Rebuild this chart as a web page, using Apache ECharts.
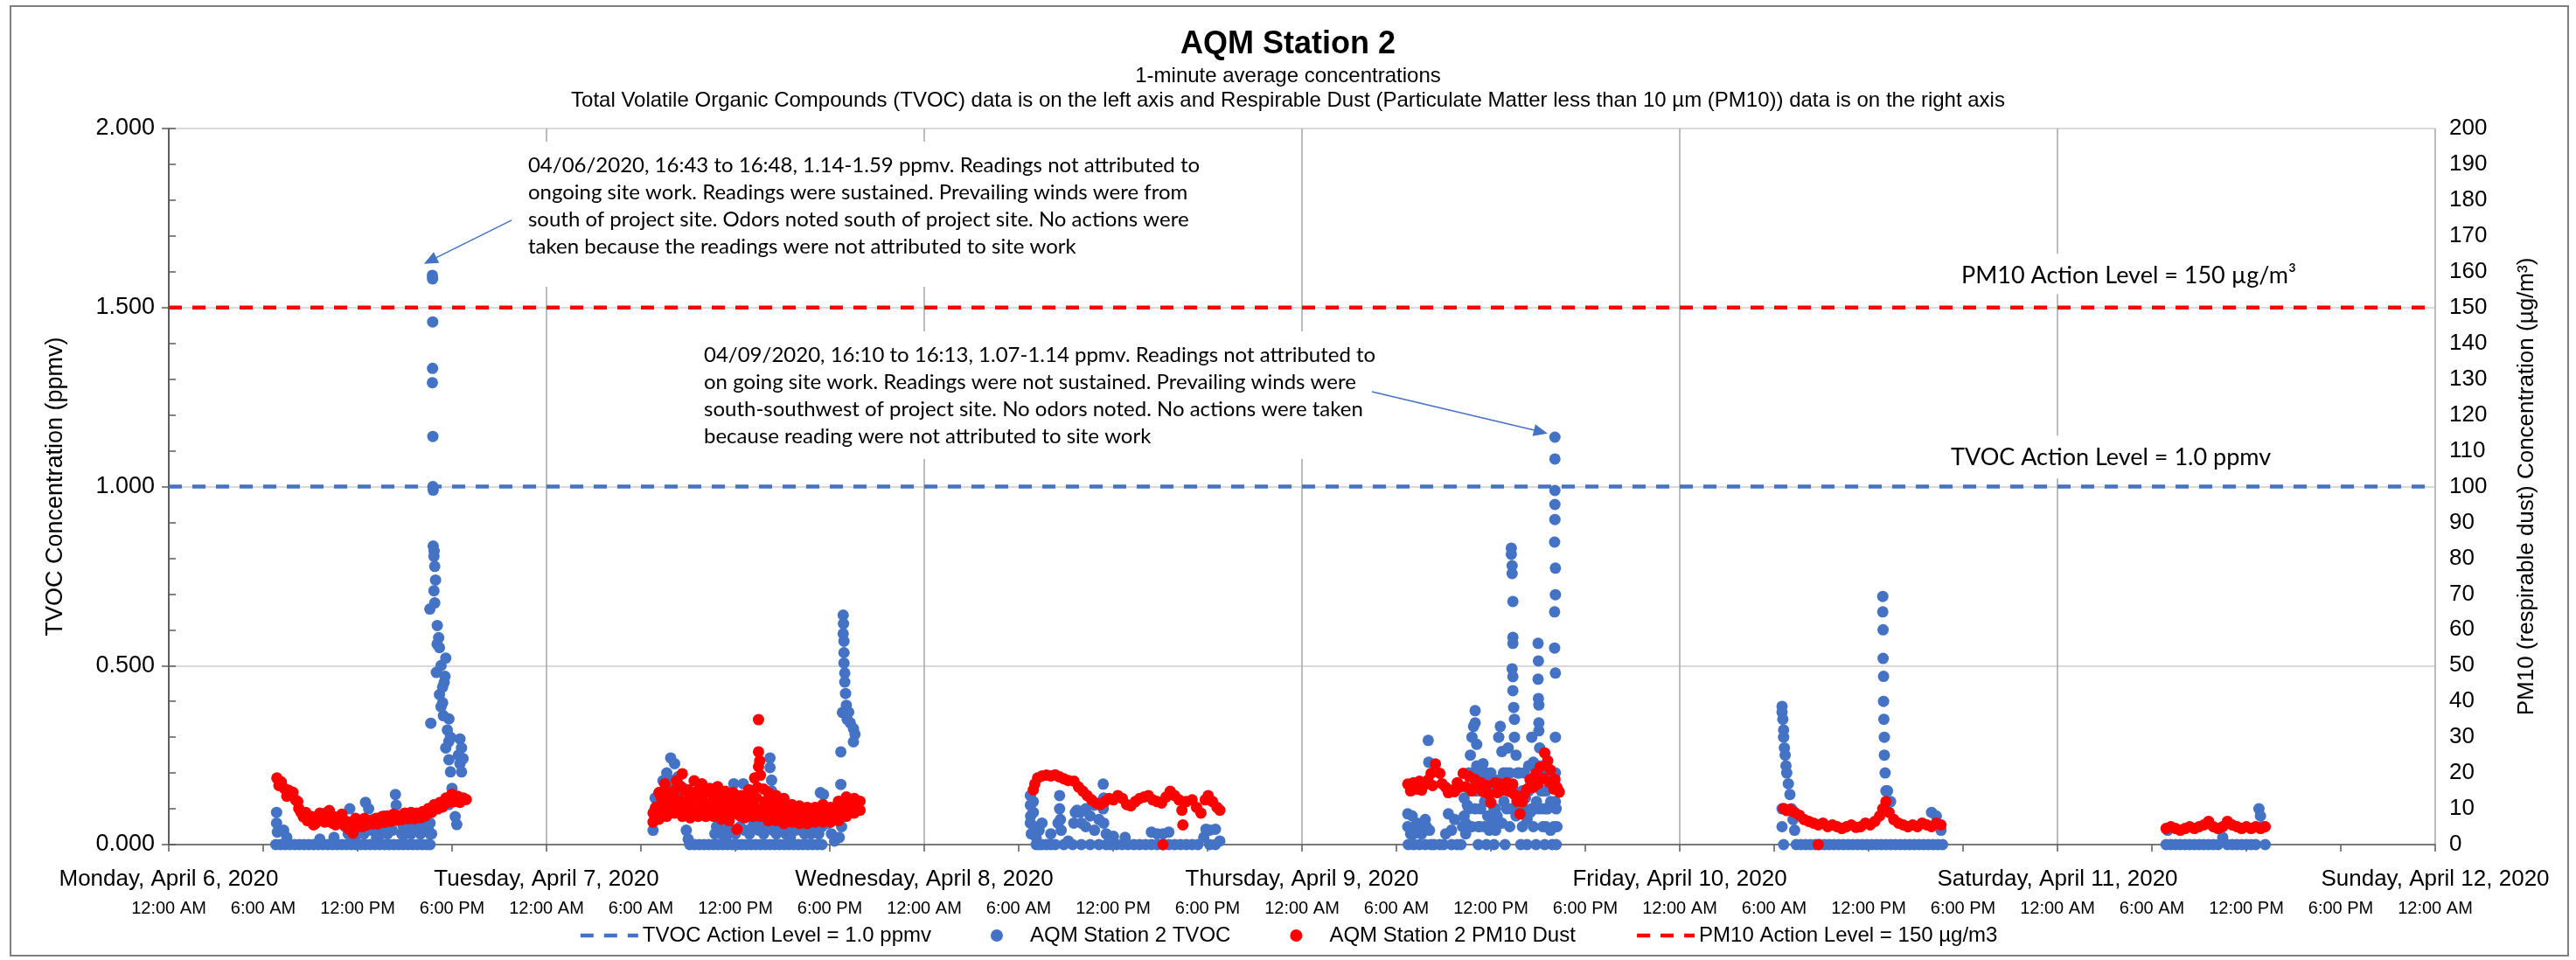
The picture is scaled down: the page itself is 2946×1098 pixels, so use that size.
<!DOCTYPE html>
<html><head><meta charset="utf-8">
<script src="https://cdn.jsdelivr.net/npm/echarts@6/dist/echarts.min.js"></script>
<style>html,body{margin:0;padding:0;background:#fff}#c{width:2946px;height:1098px}</style>
</head><body><div id="c"></div>
<script>
// ---------- DATA (x = hours since Monday April 6 2020 00:00) ----------
const dayLabels = ['Monday, April 6, 2020','Tuesday, April 7, 2020','Wednesday, April 8, 2020','Thursday, April 9, 2020','Friday, April 10, 2020','Saturday, April 11, 2020','Sunday, April 12, 2020'];
const timeLabels = ['12:00 AM','6:00 AM','12:00 PM','6:00 PM'];
const tvocActionLevel = 1.0;   // ppmv
const pm10ActionLevel = 150;   // ug/m3

const tvocMon = [
 [6.8,0],[7.1,0],[7.4,0],[7.7,0],[8.0,0],[8.3,0],[8.6,0],[8.9,0],[9.2,0],[9.5,0],[9.8,0],[10.1,0],[10.4,0],[10.7,0],[11.0,0],[11.3,0],[11.6,0],[11.9,0],[12.2,0],[12.5,0],[12.8,0],[13.1,0],[13.4,0],[13.7,0],[14.0,0],[14.3,0],[14.6,0],[14.9,0],[15.2,0],[15.5,0],[15.8,0],[16.1,0],[16.4,0],[16.6,0],
 [6.85,0.09],[6.85,0.06],[6.9,0.035],[7.3,0.04],[7.5,0.02],[9.6,0.015],[10.5,0.02],[11.2,0.05],[11.5,0.1],[11.9,0.04],[12.0,0.03],[12.3,0.06],[12.5,0.118],[12.7,0.1],[13.0,0.07],[13.3,0.05],[13.5,0.03],[13.7,0.08],[14.0,0.06],[14.4,0.14],[14.45,0.11],[14.6,0.07],[14.9,0.05],[15.0,0.03],[15.2,0.06],[15.5,0.045],[15.8,0.05],[16.1,0.04],[16.4,0.06],[16.6,0.03],
 [11.4,0.03],[11.8,0.02],[12.1,0.05],[12.4,0.03],[12.9,0.04],[13.2,0.02],[13.6,0.05],[13.9,0.03],[14.2,0.04],[14.8,0.03],[15.1,0.05],[15.4,0.03],[15.7,0.06],[16.0,0.03],[16.3,0.05],[16.5,0.04],
 [16.75,1.59],[16.76,1.58],[16.77,1.46],[16.76,1.33],[16.75,1.29],[16.78,1.14],[16.78,1.0],[16.8,0.99],[16.8,0.834],[16.86,0.82],[16.85,0.805],[16.9,0.777],[16.95,0.739],[16.85,0.709],[16.9,0.675],[16.59,0.658],[17.06,0.612],[17.15,0.578],[17.2,0.55],[17.6,0.521],[17.0,0.481],[17.5,0.453],[17.2,0.419],[17.4,0.396],[17.3,0.385],[17.8,0.351],[16.65,0.339],[17.8,0.288],[18.5,0.295],[18.6,0.27],[17.8,0.237],[18.5,0.226],[17.9,0.203],[18.6,0.203],[18.0,0.157],[17.8,0.112],[18.2,0.078],[18.3,0.056],[17.9,0.3],[17.7,0.32],[17.4,0.44],[17.55,0.47],[17.3,0.5],[17.05,0.56],[17.45,0.36],[17.6,0.27],[18.4,0.25],[18.7,0.24],[16.6,0.06],[16.7,0.03]
];
const tvocTue = [
 [30.77,0.04],[30.9,0.1],[30.9,0.13],[31.15,0.145],[31.15,0.1],[31.4,0.178],[31.4,0.12],[31.64,0.2],[31.64,0.15],[31.89,0.242],[31.9,0.18],[32.1,0.17],[32.14,0.226],[32.38,0.19],[32.38,0.145],[32.4,0.1],[32.63,0.16],[32.75,0.096],[32.88,0.04],[33.0,0.015],
 [33.1,0],[33.4,0],[33.7,0],[34.0,0],[34.3,0],[34.6,0],[34.9,0],[35.2,0],[35.5,0],[35.8,0],[36.1,0],[36.4,0],[36.7,0],[37.0,0],[37.3,0],[37.6,0],[37.9,0],[38.2,0],[38.5,0],[38.8,0],[39.1,0],[39.4,0],[39.7,0],[40.0,0],[40.3,0],[40.6,0],[40.9,0],[41.2,0],[41.5,0],
 [34.7,0.03],[35.0,0.07],[35.3,0.05],[35.6,0.07],[35.9,0.17],[36.0,0.12],[36.2,0.09],[36.5,0.17],[36.6,0.12],[36.8,0.08],[37.1,0.05],[37.4,0.1],[37.6,0.06],[37.9,0.08],[38.2,0.242],[38.2,0.215],[38.3,0.18],[38.3,0.15],[38.4,0.1],[38.7,0.06],[39.0,0.04],[39.3,0.07],[39.6,0.05],[39.9,0.06],[40.2,0.04],[40.5,0.05],[40.8,0.03],[41.1,0.06],[41.4,0.145],[41.6,0.14],[41.8,0.1],[41.9,0.06],[42.1,0.03],[42.3,0.01],[42.6,0.02],[42.7,0.12],[42.7,0.168],[42.7,0.259],[42.75,0.05],
 [34.8,0.05],[35.1,0.03],[35.4,0.02],[35.7,0.04],[36.0,0.03],[36.3,0.05],[36.6,0.04],[36.9,0.03],[37.2,0.06],[37.5,0.04],[37.8,0.03],[38.1,0.05],[38.4,0.04],[38.6,0.03],[38.9,0.05],[39.2,0.03],[39.5,0.02],[39.8,0.04],[40.1,0.06],[40.4,0.03],[40.7,0.05],[41.0,0.04],[41.3,0.03],[41.5,0.05],
 [42.85,0.641],[42.87,0.617],[42.85,0.589],[42.9,0.568],[42.9,0.536],[42.9,0.507],[42.95,0.479],[42.95,0.454],[43.0,0.422],[43.05,0.389],[42.8,0.369],[43.1,0.35],[43.2,0.37],[43.3,0.34],[43.5,0.324],[43.6,0.308],[43.5,0.287]
];
const tvocWed = [
 [54.74,0.137],[54.74,0.11],[54.76,0.08],[54.74,0.06],[54.8,0.03],[54.93,0.12],[54.93,0.09],[55.0,0.05],[55.11,0.02],[55.11,0],[55.3,0],[55.3,0.04],[55.48,0.06],[55.48,0],[55.76,0],[56.04,0],[56.04,0.03],[56.32,0],[56.5,0.06],[56.6,0.137],[56.6,0.1],[56.65,0.07],[56.7,0.04],[56.87,0],[57.15,0.01],[57.43,0],[57.5,0.06],[57.6,0.09],[57.71,0.096],[57.9,0.09],[57.98,0.06],[57.98,0],[58.26,0.1],[58.26,0.05],[58.54,0.08],[58.54,0],[58.82,0.11],[58.82,0.04],[59.1,0.07],[59.1,0],[59.37,0.169],[59.4,0.13],[59.37,0.1],[59.4,0.06],[59.56,0.03],[59.56,0],[59.84,0],[60.02,0.023],[60.21,0],[60.58,0],[60.76,0.02],[60.95,0],[61.32,0],[61.69,0],[62.06,0],[62.43,0.035],[62.43,0],[62.8,0.03],[62.8,0],[63.17,0.03],[63.17,0],[63.54,0.035],[63.54,0],[63.91,0],[64.28,0],[64.65,0],[65.02,0],[65.39,0],[65.76,0.02],[65.9,0.043],[66.13,0.04],[66.13,0],[66.5,0.043],[66.5,0],[66.78,0.01]
];
const tvocThu = [
 [78.72,0.086],[78.72,0.05],[78.75,0],[78.9,0.03],[79.0,0.08],[79.09,0.03],[79.09,0],[79.2,0.05],[79.3,0.06],[79.46,0],[79.5,0.04],[79.6,0.03],[79.83,0.07],[79.83,0],[79.9,0.05],[80.02,0.291],[80.05,0.23],[80.1,0.04],[80.2,0],[80.39,0],[80.76,0],[81.0,0],[81.13,0.03],[81.3,0.086],[81.5,0.04],[81.5,0],[81.7,0.07],[81.87,0],[82.1,0],[82.3,0.13],[82.3,0.08],[82.4,0.03],[82.5,0.11],[82.6,0.2],[82.7,0.25],[82.8,0.3],[82.9,0.33],[83.0,0.374],[83.0,0.34],[83.1,0.28],[83.1,0.15],[83.2,0.05],[83.2,0],[83.3,0.2],[83.35,0.1],[83.5,0.226],[83.5,0.16],[83.6,0.05],[83.72,0],[83.8,0.18],[83.9,0.12],[84.0,0.2],[84.09,0.06],[84.2,0],[84.3,0.1],[84.4,0.18],[84.5,0.3],[84.6,0.33],[84.7,0.26],[84.83,0.12],[84.9,0],[85.0,0.2],[85.1,0.27],[85.2,0.05],
 [82.2,0.05],[82.4,0.06],[82.6,0.1],[82.7,0.15],[82.8,0.05],[82.9,0.2],[83.0,0.1],[83.1,0.22],[83.3,0.05],[83.4,0.15],[83.6,0.12],[83.7,0.2],[83.8,0.08],[83.9,0.04],[84.1,0.15],[84.2,0.1],[84.3,0.04],[84.4,0.08],[84.6,0.15],[84.7,0.06],[84.8,0.2],[85.0,0.1],[85.1,0.15],[85.2,0.2],[85.3,0.1],[85.5,0.15],[85.6,0.08],[85.8,0.2],[86.0,0.15],[86.1,0.1],[86.3,0.07],[86.4,0.22],[86.5,0.18],[86.6,0.1],[86.7,0.05],[86.9,0.12],[87.1,0.1],[87.2,0.2],[87.3,0.15],[87.4,0.1],[87.5,0.05],[87.6,0.2],[87.8,0.12],[87.9,0.18],[88.0,0.05],[88.1,0.12],[88.2,0.05],
 [85.3,0.828],[85.3,0.811],[85.35,0.779],[85.35,0.757],[85.4,0.679],[85.4,0.579],[85.4,0.562],[85.35,0.491],[85.4,0.469],[85.4,0.43],[85.45,0.383],[85.5,0.35],[85.5,0.3],[85.6,0.25],[85.7,0.2],[85.76,0.1],[85.9,0],[86.0,0.05],[86.13,0.2],[86.2,0.13],[86.3,0],[86.4,0.15],[86.5,0.09],[86.6,0.3],[86.7,0.23],[86.8,0.1],[86.87,0],[86.9,0.2],
 [87.0,0.562],[87.02,0.513],[87.0,0.462],[87.02,0.408],[87.05,0.39],[87.05,0.34],[87.05,0.318],[87.1,0.27],[87.1,0.22],[87.2,0.15],[87.3,0.05],[87.42,0],[87.5,0.15],[87.6,0.1],[87.7,0.2],[87.79,0.04],[87.9,0],
 [88.07,1.138],[88.07,1.077],[88.07,0.989],[88.07,0.95],[88.07,0.908],[88.05,0.845],[88.1,0.772],[88.1,0.698],[88.05,0.65],[88.05,0.549],[88.1,0.479],[88.1,0.3],[88.1,0.2],[88.15,0.1],[88.15,0]
];
const tvocFri = [
 [102.5,0.386],[102.5,0.37],[102.55,0.35],[102.6,0.32],[102.6,0.3],[102.65,0.27],[102.7,0.25],[102.75,0.22],[102.8,0.2],[102.9,0.17],[103.0,0.14],[103.1,0.1],[103.2,0.07],[103.3,0.04],[102.5,0.1],[102.5,0.05],[102.6,0],
 [103.4,0],[103.7,0],[104.0,0],[104.3,0],[104.6,0],[104.9,0],[105.2,0],[105.5,0],[105.8,0],[106.1,0],[106.4,0],[106.7,0],[107.0,0],[107.3,0],[107.6,0],[107.9,0],[108.2,0],[108.5,0],[108.8,0],[109.1,0],[109.4,0],[109.7,0],[110.0,0],[110.3,0],[110.6,0],[110.9,0],[111.2,0],[111.5,0],[111.8,0],[112.1,0],[112.4,0],[112.7,0],
 [108.9,0.693],[108.9,0.65],[108.92,0.6],[108.92,0.52],[108.95,0.47],[108.95,0.4],[108.97,0.35],[109.0,0.3],[109.0,0.25],[109.05,0.2],[109.1,0.15],[109.1,0.1],[109.2,0.15],[109.4,0.12],[110.5,0.05],[112.0,0.09],[112.3,0.08],[112.6,0.04]
];
const tvocSat = [
 [126.9,0],[127.0,0.04],[127.2,0],[127.5,0],[127.8,0],[128.1,0],[128.4,0],[128.7,0],[129.0,0],[129.3,0],[129.6,0],[129.9,0],[130.2,0],[130.5,0.02],[130.8,0],[131.1,0],[131.4,0],[131.7,0],[132.0,0],[132.3,0],[132.6,0],[132.8,0.1],[132.9,0.08],[133.0,0.05],[133.2,0]
];

const pm10Mon = [
 [6.87,18.6],[7.15,17.5],[7.33,15.7],[7.61,15.2],[7.89,14.6],[8.07,12.4],[8.26,10.1],[8.4,9.0],[8.54,7.8],[8.81,6.7],[9.09,7.8],[9.3,5.8],[9.46,6.7],[9.74,7.8],[9.9,6.3],[10.02,8.9],[10.2,9.5],[10.4,6.0],[10.48,7.8],[10.76,7.3],[11.0,8.5],[11.13,5.5],[11.4,4.4],[11.7,3.2],[11.87,7.3],[12.0,5.0],[12.15,6.2],[12.43,7.3],[12.8,6.7],[13.0,5.8],[13.17,7.3],[13.54,7.8],[13.9,8.0],[14.28,8.5],[14.65,8.0],[15.0,8.8],[15.39,9.0],[15.76,8.8],[16.13,9.2],[16.5,10.1],[16.87,11.2],[17.24,11.8],[17.61,13.0],[17.98,14.1],[18.35,13.5],[18.72,13.0],[18.9,12.6],
 [7.0,16.5],[7.5,13.5],[8.2,12.0],[8.7,9.0],[9.2,5.5],[9.6,8.8],[10.1,6.5],[10.6,5.5],[11.3,6.5],[11.55,5.0],[12.3,5.0],[12.6,5.5],[13.3,5.8],[13.7,6.2],[14.1,6.5],[14.5,6.8],[14.8,7.0],[15.2,7.2],[15.6,7.2],[16.0,7.5],[16.3,8.0],[16.7,9.0],[17.1,10.0],[17.4,10.5],[17.8,11.8],[18.1,12.0],[18.5,11.8]
];
const pm10Tue = [
 [30.77,8.8],[31.15,14.5],[31.52,17.0],[31.89,14.5],[32.26,17.8],[32.63,19.8],[33.0,15.3],[33.38,17.8],[33.87,17.0],[34.37,15.7],[34.87,16.2],[35.36,14.9],[35.86,14.5],[36.35,13.7],[36.85,15.3],[37.22,18.6],[37.59,19.4],[38.09,14.5],[38.59,13.7],[39.08,12.9],[39.58,11.2],[40.07,10.8],[40.57,10.4],[41.07,10.4],[41.56,11.2],[42.06,10.4],[42.55,12.1],[43.05,13.3],[43.55,12.9],[43.92,12.1],
 [30.77,6.3],[31.15,7.1],[31.64,7.9],[32.14,8.8],[32.63,7.9],[33.13,7.5],[33.63,7.9],[34.12,7.9],[34.62,7.9],[35.11,7.1],[35.61,6.7],[36.1,4.3],[36.6,7.5],[37.1,7.9],[37.59,7.9],[38.09,6.7],[38.59,6.7],[39.08,5.9],[39.58,6.3],[40.07,5.9],[40.57,5.9],[41.07,6.3],[41.56,6.3],[42.06,6.3],[42.55,6.7],[43.05,7.9],[43.55,8.8],[43.92,9.6],
 [30.95,10.5],[31.4,11.5],[31.77,11.0],[32.0,13.0],[32.4,12.5],[32.85,12.0],[33.25,12.0],[33.62,12.5],[34.0,12.0],[34.5,11.8],[34.99,11.5],[35.5,11.0],[35.98,9.6],[36.48,10.5],[36.97,11.5],[37.35,13.0],[37.85,12.0],[38.35,10.5],[38.83,9.8],[39.33,9.0],[39.83,8.5],[40.32,8.2],[40.82,8.2],[41.32,8.5],[41.81,8.5],[42.3,9.0],[42.8,10.5],[43.3,10.8],[43.75,10.8],
 [31.3,13.0],[31.7,14.5],[32.1,15.0],[32.45,16.5],[32.8,15.0],[33.2,14.0],[33.6,15.0],[34.1,14.5],[34.6,14.0],[35.1,13.5],[35.6,12.8],[36.1,12.0],[36.6,12.5],[37.0,14.0],[37.4,16.0],[37.8,15.5],[38.3,12.5],[38.8,11.5],[39.3,10.8],[39.8,10.0],[40.3,9.5],[40.8,9.5],[41.3,9.8],[41.8,9.6],[42.3,10.0],[42.8,11.5],[43.3,12.0],[43.8,11.8],
 [31.2,9.0],[31.6,9.5],[32.0,10.0],[32.4,10.0],[32.8,9.5],[33.3,9.5],[33.8,10.0],[34.3,9.8],[34.8,9.5],[35.3,9.0],[35.8,8.5],[36.3,8.0],[36.8,9.0],[37.3,10.0],[37.8,9.5],[38.3,8.5],[38.8,8.0],[39.3,7.5],[39.8,7.2],[40.3,7.0],[40.8,7.0],[41.3,7.2],[41.8,7.2],[42.3,7.5],[42.8,8.8],[43.3,9.5],[43.8,10.0],
 [37.47,34.9],[37.47,25.9],[37.55,23.4],[37.47,21.8]
];
const pm10Wed = [
 [54.93,15.3],[55.02,16.9],[55.2,18.6],[55.48,19.2],[55.76,19.4],[56.04,19.2],[56.32,19.5],[56.6,18.9],[56.87,18.4],[57.15,17.9],[57.52,17.7],[57.8,16.1],[58.08,14.9],[58.35,13.7],[58.63,12.5],[58.91,11.6],[59.19,11.2],[59.47,12.0],[59.74,12.9],[60.02,12.5],[60.3,13.7],[60.58,12.9],[60.86,11.2],[61.13,10.8],[61.41,12.0],[61.69,12.9],[61.97,13.3],[62.24,13.7],[62.52,12.5],[62.8,12.0],[63.08,11.6],[63.36,13.3],[63.63,14.9],[63.91,13.7],[64.19,12.5],[64.37,9.6],[64.43,5.5],[64.65,12.0],[65.02,12.5],[65.3,10.4],[65.58,8.8],[65.85,12.5],[66.04,13.7],[66.32,12.0],[66.6,10.4],[66.78,9.6],[63.17,0]
];
const pm10Thu = [
 [78.72,16.9],[79.09,17.3],[79.3,15.5],[79.46,17.7],[79.83,16.9],[80.0,18.0],[80.2,19.9],[80.48,22.5],[80.76,19.9],[81.13,16.0],[81.3,14.5],[81.5,15.2],[81.87,17.3],[82.0,16.0],[82.24,19.9],[82.61,19.1],[82.98,18.2],[83.0,16.0],[83.35,17.3],[83.72,16.5],[84.0,11.7],[84.27,17.3],[84.5,15.0],[84.65,16.9],[85.02,17.3],[85.39,16.9],[85.66,12.1],[85.85,8.6],[86.0,12.0],[86.13,14.0],[86.3,15.5],[86.5,18.2],[86.87,19.9],[87.0,17.0],[87.14,21.7],[87.42,25.6],[87.61,23.4],[87.79,20.8],[88.07,18.2],[88.2,16.0],[88.35,14.7],
 [78.9,15.0],[79.6,15.2],[80.3,16.5],[80.9,17.0],[81.7,14.8],[82.4,16.2],[82.8,15.0],[83.5,14.8],[83.9,14.0],[84.4,14.5],[84.9,15.2],[85.2,14.8],[85.5,14.0],[86.7,16.0],[87.3,18.5],[87.7,17.5],[88.0,15.5]
];
const pm10Fri = [
 [102.6,10.1],[102.8,9.5],[103.0,9.8],[103.3,9.0],[103.6,8.2],[103.9,7.0],[104.2,6.5],[104.5,6.0],[104.8,5.5],[105.1,6.0],[105.4,5.0],[105.7,5.5],[106.0,5.0],[106.3,4.5],[106.6,5.0],[106.9,5.5],[107.2,4.8],[107.5,5.0],[107.8,6.0],[108.1,5.5],[108.4,6.5],[108.7,8.0],[108.9,10.0],[109.1,12.0],[109.3,9.0],[109.6,7.0],[109.9,6.0],[110.2,5.5],[110.5,5.0],[110.8,5.5],[111.1,5.0],[111.4,6.0],[111.7,5.5],[112.0,5.0],[112.3,6.0],[112.6,5.5],[104.8,0]
];
const pm10Sat = [
 [126.9,4.5],[127.2,5.0],[127.5,4.5],[127.8,4.0],[128.1,4.5],[128.4,5.0],[128.7,4.5],[129.0,5.0],[129.3,5.5],[129.6,6.5],[129.9,5.0],[130.2,4.5],[130.5,5.0],[130.8,6.5],[131.1,5.5],[131.4,5.0],[131.7,4.5],[132.0,5.0],[132.3,4.5],[132.6,5.0],[132.9,4.5],[133.2,5.0]
];

const tvoc = [].concat(tvocMon, tvocTue, tvocWed, tvocThu, tvocFri, tvocSat);
const pm10 = [].concat(pm10Mon, pm10Tue, pm10Wed, pm10Thu, pm10Fri, pm10Sat);

const titleText = 'AQM Station 2';
const subtitle1 = '1-minute average concentrations';
const subtitle2 = 'Total Volatile Organic Compounds (TVOC) data is on the left axis and Respirable Dust (Particulate Matter less than 10 µm (PM10)) data is on the right axis';
const legendNames = ['TVOC Action Level = 1.0 ppmv','AQM Station 2 TVOC','AQM Station 2 PM10 Dust','PM10 Action Level = 150 µg/m3'];

const notes = [
 {anchor:[22.83,1.934], pad:[12,10,30,10], text:'04/06/2020, 16:43 to 16:48, 1.14-1.59 ppmv. Readings not attributed to\nongoing site work. Readings were sustained. Prevailing winds were from\nsouth of project site. Odors noted south of project site. No actions were\ntaken because the readings were not attributed to site work'},
 {anchor:[34.0,1.404], pad:[12,10,10,10], text:'04/09/2020, 16:10 to 16:13, 1.07-1.14 ppmv. Readings not attributed to\non going site work. Readings were not sustained. Prevailing winds were\nsouth-southwest of project site. No odors noted. No actions were taken\nbecause reading were not attributed to site work'},
 {anchor:[113.89,1.626], pad:[10,10,5,10], text:'PM10 Action Level = 150 µg/m³', big:true},
 {anchor:[113.22,1.118], pad:[10,10,8,10], text:'TVOC Action Level = 1.0 ppmv', big:true}
];
const arrows = [
 {from:[21.78,1.744], to:[16.61,1.631]},
 {from:[76.44,1.265], to:[87.17,1.153]}
];

// ---------- CHART ----------
const FONT = 'Liberation Sans, Arial, sans-serif';
const BLUE = '#4472C4', RED = '#FF0000';
const chart = echarts.init(document.getElementById('c'), null, {renderer:'canvas', width:2946, height:1098});

const hiddenSymbol = {color:'rgba(0,0,0,0)', borderColor:'rgba(0,0,0,0)', borderWidth:0, opacity:0};
const option = {
  animation:false,
  backgroundColor:'#fff',
  title:[
    {text:titleText, left:'center', top:28, textStyle:{fontFamily:FONT, fontSize:36, fontWeight:'bold', color:'#000'}},
    {text:subtitle1, left:'center', top:70, textStyle:{fontFamily:FONT, fontSize:24, fontWeight:'normal', color:'#000'}},
    {text:subtitle2, left:'center', top:98, textStyle:{fontFamily:FONT, fontSize:24, fontWeight:'normal', color:'#000'}}
  ],
  legend:{
    left:'center', top:1053, itemWidth:66, itemHeight:14, itemGap:68,
    textStyle:{fontFamily:FONT, fontSize:24, color:'#000'},
    data:[
      {name:legendNames[0], itemStyle:hiddenSymbol, lineStyle:{width:4.5}},
      {name:legendNames[1]},
      {name:legendNames[2]},
      {name:legendNames[3], itemStyle:hiddenSymbol, lineStyle:{width:4.5}}
    ]
  },
  grid:{left:193, right:161, top:147, bottom:132, containLabel:false},
  xAxis:[
    {type:'value', min:0, max:144, interval:6, position:'bottom',
     axisLine:{show:true, onZero:false, lineStyle:{color:'#595959', width:1.5}},
     axisTick:{show:true, length:8, lineStyle:{color:'#595959', width:1.5}},
     splitLine:{show:false},
     axisLabel:{show:true, margin:63, showMinLabel:true, showMaxLabel:true, hideOverlap:false,
       fontFamily:FONT, fontSize:20, color:'#000',
       formatter:v=>timeLabels[Math.round(v/6)%4]}},
    {type:'value', min:0, max:144, interval:24, position:'bottom',
     axisLine:{show:false, onZero:false}, axisTick:{show:false},
     axisLabel:{show:true, margin:27, showMinLabel:true, showMaxLabel:true, fontFamily:FONT, fontSize:26, color:'#000',
       formatter:v=>dayLabels[Math.round(v/24)]},
     splitLine:{show:true, lineStyle:{color:'#A6A6A6', width:1.5}}}
  ],
  yAxis:[
    {type:'value', min:0, max:2, interval:0.5, position:'left',
     name:'TVOC Concentration (ppmv)', nameLocation:'middle', nameGap:116, nameRotate:90,
     nameTextStyle:{fontFamily:FONT, fontSize:27, color:'#000'},
     axisLine:{show:true, lineStyle:{color:'#595959', width:1.5}},
     axisTick:{show:true, length:8, lineStyle:{color:'#595959', width:1.5}},
     axisLabel:{margin:16, fontFamily:FONT, fontSize:27, color:'#000', formatter:v=>v.toFixed(3)},
     splitLine:{show:true, lineStyle:{color:'#D9D9D9', width:2}}},
    {type:'value', min:0, max:200, interval:10, position:'right',
     name:'PM10 (respirable dust) Concentration (µg/m³)', nameLocation:'middle', nameGap:92, nameRotate:90,
     nameTextStyle:{fontFamily:FONT, fontSize:26, color:'#000'},
     axisLine:{show:true, lineStyle:{color:'#595959', width:1.5}},
     axisTick:{show:true, length:8, lineStyle:{color:'#595959', width:1.5}},
     axisLabel:{margin:16, fontFamily:FONT, fontSize:26, color:'#000'},
     splitLine:{show:false}}
  ],
  series:[
    {name:legendNames[0], type:'line', xAxisIndex:0, yAxisIndex:0, symbol:'none', silent:true,
     data:[[0,tvocActionLevel],[144,tvocActionLevel]],
     lineStyle:{color:BLUE, width:4.5, type:[15,12]}, itemStyle:{color:BLUE},
     markLine:{silent:true, symbol:['none','triangle'], symbolSize:[14,16], label:{show:false},
       lineStyle:{color:BLUE, width:1.5, type:'solid'},
       data:arrows.map(a=>[{coord:a.from},{coord:a.to}])}},
    {name:legendNames[3], type:'line', xAxisIndex:0, yAxisIndex:1, symbol:'none', silent:true,
     data:[[0,pm10ActionLevel],[144,pm10ActionLevel]],
     lineStyle:{color:RED, width:4.5, type:[15,12]}, itemStyle:{color:RED}},
    {name:legendNames[1], type:'scatter', xAxisIndex:0, yAxisIndex:0, symbol:'circle', symbolSize:13, silent:true,
     itemStyle:{color:BLUE, opacity:1}, data:tvoc},
    {name:legendNames[2], type:'scatter', xAxisIndex:0, yAxisIndex:1, symbol:'circle', symbolSize:13, silent:true,
     itemStyle:{color:RED, opacity:1}, data:pm10}
  ]
};
chart.setOption(option);

const g = [{type:'rect', z:100, silent:true, shape:{x:12, y:7, width:2925, height:1086}, style:{fill:null, stroke:'#7F7F7F', lineWidth:2}}];
notes.forEach(n=>{
  const p = chart.convertToPixel({xAxisIndex:0, yAxisIndex:0}, n.anchor);
  g.push({type:'text', z:1, silent:true, x:p[0]-n.pad[3], y:p[1]-n.pad[0],
    style:{text:n.text, font: n.big ? '27px Lato, "Open Sans", sans-serif' : '24px Lato, "Open Sans", sans-serif',
      fill:'#000', lineHeight:31, backgroundColor:'#fff', padding:n.pad}});
});
chart.setOption({graphic:g});
</script></body></html>
